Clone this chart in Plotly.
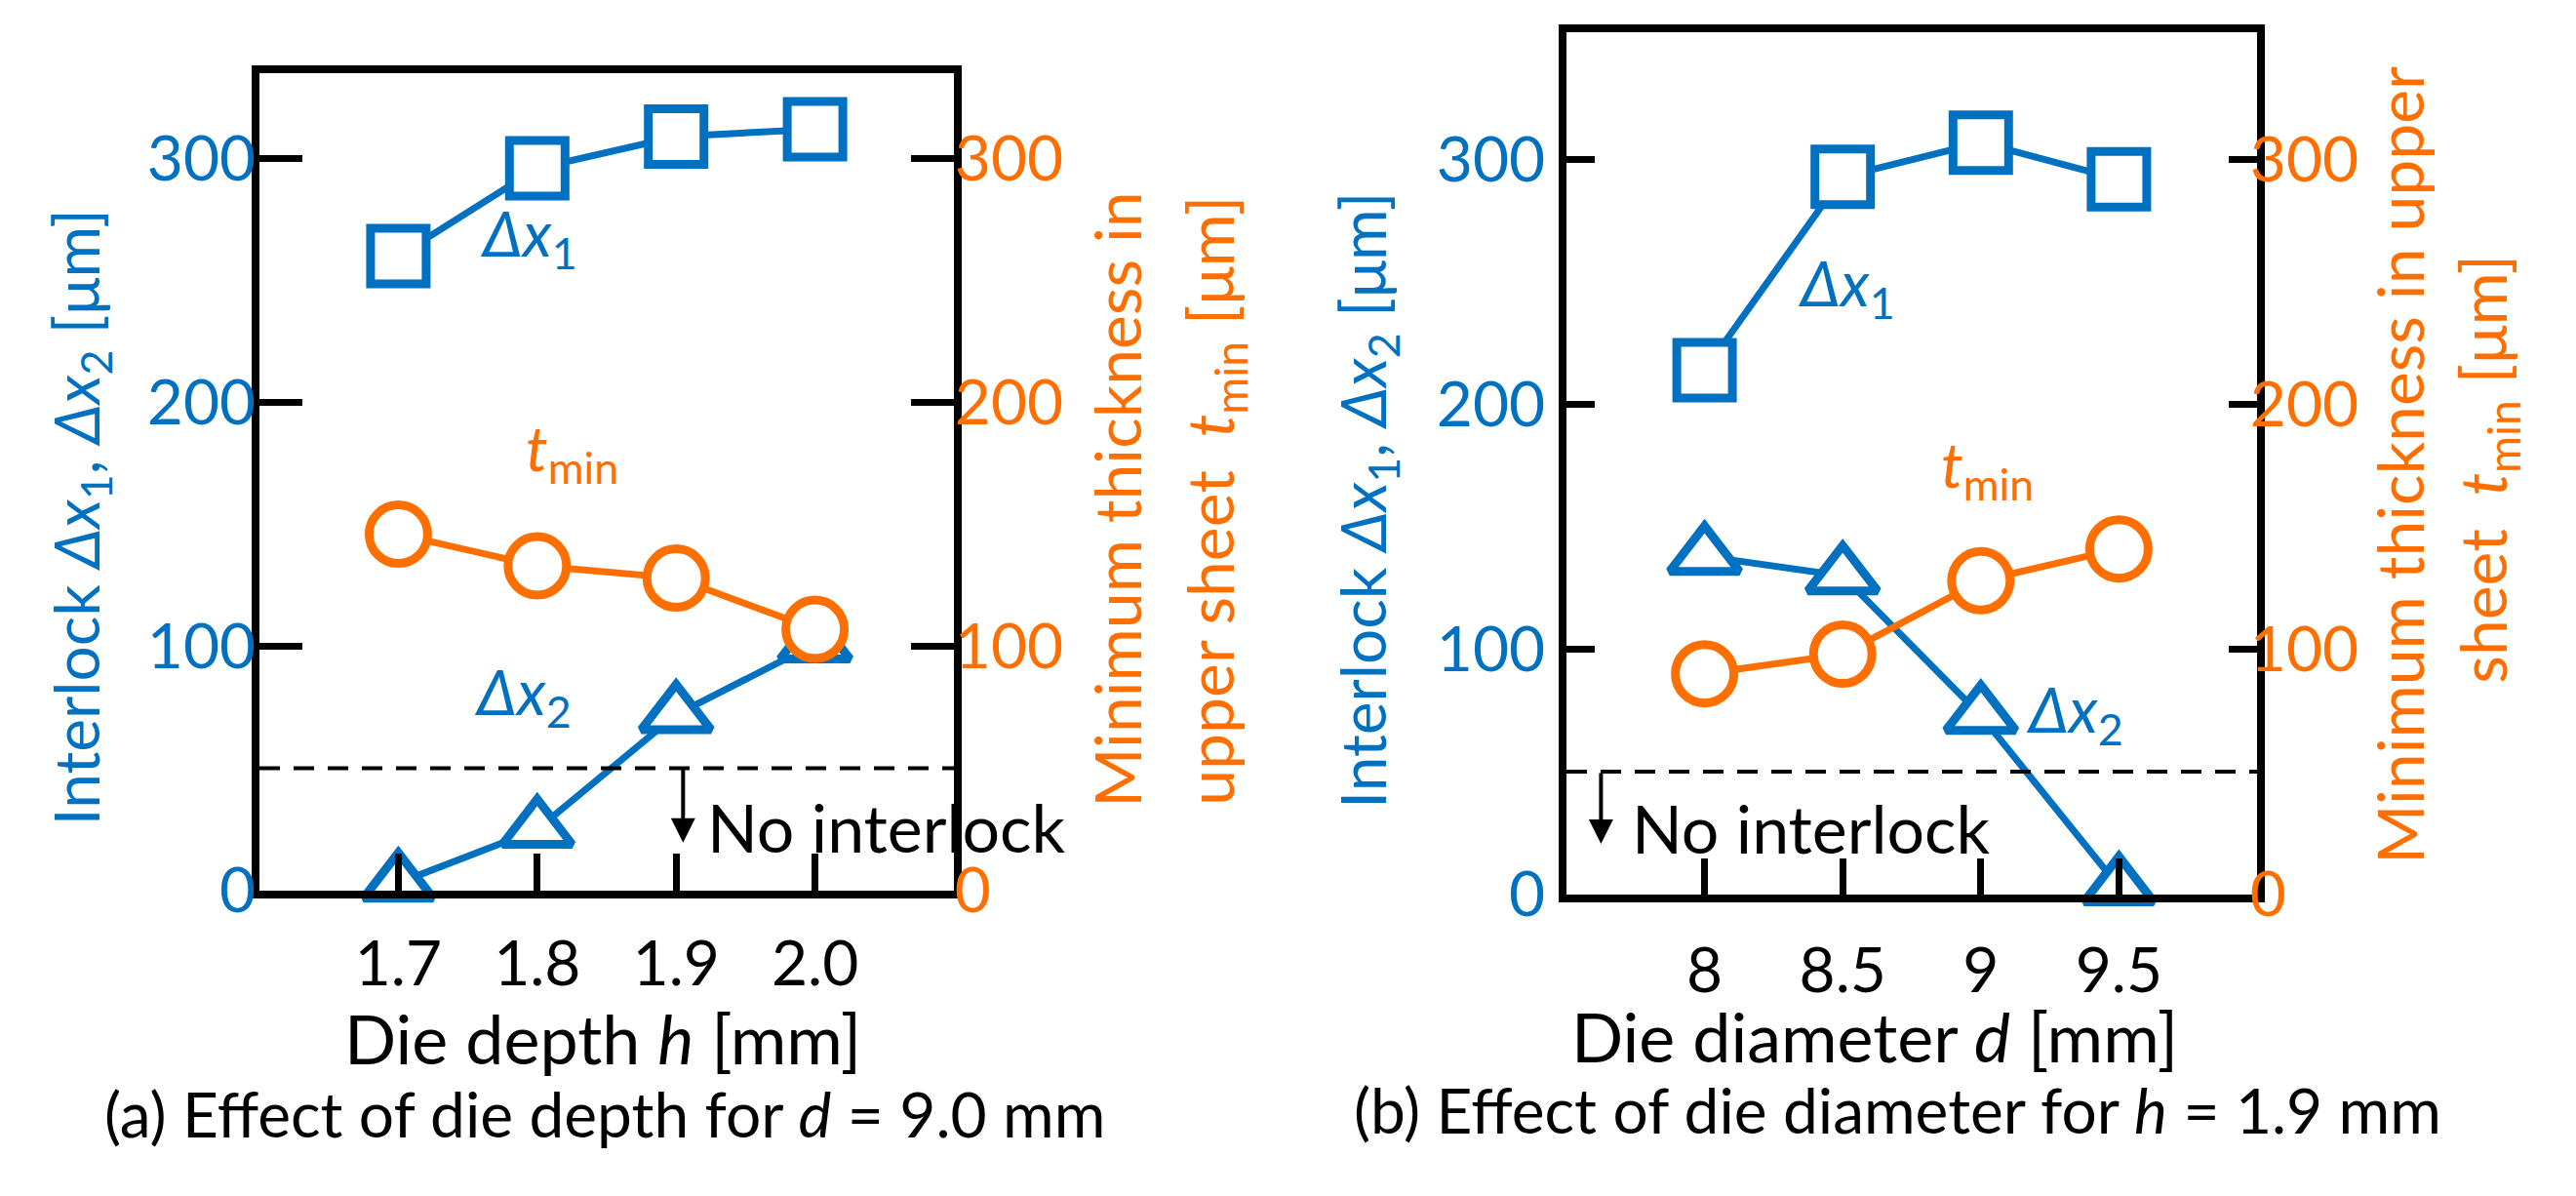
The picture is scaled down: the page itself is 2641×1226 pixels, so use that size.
import plotly.graph_objects as go

# ---------------- data ----------------
depth_h = [1.7, 1.8, 1.9, 2.0]
depth_labels = ["1.7", "1.8", "1.9", "2.0"]
a_dx1 = [260, 296, 309, 312]
a_dx2 = [3, 25, 72, 101]
a_tmin = [146, 133, 128, 107]

diam_d = [8, 8.5, 9, 9.5]
diam_labels = ["8", "8.5", "9", "9.5"]
b_dx1 = [214, 293, 307, 292]
b_dx2 = [138, 130, 73, 3]
b_tmin = [90, 98, 128, 141]

y_ticks = [0, 100, 200, 300]
no_interlock_level = 50

BLUE = "#0070C0"
ORANGE = "#FF6F00"
FONT = "Lato"
FS = 64
W, H = 2641, 1226

fig = go.Figure()

def add_series(x, y, xa, ya, color, symbol, size):
    fig.add_trace(go.Scatter(
        x=x, y=y, xaxis=xa, yaxis=ya, mode="lines+markers",
        line=dict(color=color, width=7),
        marker=dict(symbol=symbol, size=size, color="white",
                    line=dict(color=color, width=9)),
        showlegend=False, cliponaxis=False))

# panel (a)
add_series(depth_h, a_tmin, "x", "y2", ORANGE, "circle", 60)
add_series(depth_h, a_dx2, "x", "y", BLUE, "triangle-up", 62)
add_series(depth_h, a_dx1, "x", "y", BLUE, "square", 57)
# panel (b)
add_series(diam_d, b_tmin, "x2", "y4", ORANGE, "circle", 60)
add_series(diam_d, b_dx2, "x2", "y3", BLUE, "triangle-up", 62)
add_series(diam_d, b_dx1, "x2", "y3", BLUE, "square", 57)

def px_x(p):
    return p / W

def px_y(p):
    return 1 - p / H

axis_common = dict(showgrid=False, zeroline=False, showline=True,
                   linecolor="black", linewidth=8, ticks="inside",
                   tickcolor="black", tickwidth=7)

fig.update_layout(
    width=W, height=H, autosize=False,
    margin=dict(l=0, r=0, t=0, b=0),
    paper_bgcolor="white", plot_bgcolor="white",
    font=dict(family=FONT, size=FS, color="black"),
    xaxis=dict(domain=[px_x(258), px_x(970)], range=[1.6, 2.1],
               tickvals=depth_h, ticktext=depth_labels, ticklen=38,
               mirror=True, anchor="y", ticklabelstandoff=13,
               tickfont=dict(size=FS, color="black"), **axis_common),
    yaxis=dict(domain=[px_y(932), px_y(69)], range=[0, 335],
               tickvals=y_ticks, ticklen=44, anchor="x",
               ticklabelstandoff=-17,
               tickfont=dict(size=FS, color=BLUE), **axis_common),
    yaxis2=dict(overlaying="y", side="right", range=[0, 335],
                tickvals=y_ticks, ticklen=44, anchor="x",
                ticklabelstandoff=-20,
                tickfont=dict(size=FS, color=ORANGE), **axis_common),
    xaxis2=dict(domain=[px_x(1598), px_x(2306)], range=[7.5, 10],
                tickvals=diam_d, ticktext=diam_labels, ticklen=37,
                mirror=True, anchor="y3", ticklabelstandoff=16,
                tickfont=dict(size=FS, color="black"), **axis_common),
    yaxis3=dict(domain=[px_y(936), px_y(26)], range=[0, 352],
                tickvals=y_ticks, ticklen=29, anchor="x2",
                ticklabelstandoff=1,
                tickfont=dict(size=FS, color=BLUE), **axis_common),
    yaxis4=dict(overlaying="y3", side="right", range=[0, 352],
                tickvals=y_ticks, ticklen=29, anchor="x2",
                ticklabelstandoff=-28,
                tickfont=dict(size=FS, color=ORANGE), **axis_common),
)

# dashed "no interlock" threshold lines
for xr, yr in (("x", "y"), ("x2", "y3")):
    fig.add_shape(type="line", xref=f"{xr} domain", yref=yr,
                  x0=0, x1=1, y0=no_interlock_level, y1=no_interlock_level,
                  line=dict(color="black", width=4, dash="21px,14px"))

ann = []

def txt(text, x, y, xref, yref, color="black", xanchor="center",
        yanchor="middle", angle=0, size=FS):
    ann.append(dict(text=text, x=x, y=y, xref=xref, yref=yref,
                    showarrow=False, xanchor=xanchor, yanchor=yanchor,
                    textangle=angle, font=dict(family=FONT, size=size, color=color)))

def arrow(x, y_tail, y_tip, xref, yref):
    ann.append(dict(text="", x=x, y=y_tip, ax=x, ay=y_tail, xref=xref, yref=yref,
                    axref=xref, ayref=yref, showarrow=True, arrowhead=2,
                    arrowsize=1.25, arrowwidth=4, arrowcolor="black"))

DX1 = "<i>Δx</i><sub>1</sub>"
DX2 = "<i>Δx</i><sub>2</sub>"
TMIN = "<i>t</i><sub>min</sub>"

# panel (a) in-plot labels
txt(DX1, 1.757, 268, "x", "y", BLUE, "left")
txt(DX2, 1.753, 80, "x", "y", BLUE, "left")
txt(TMIN, 1.79, 180, "x", "y", ORANGE, "left")
txt("No interlock", 1.921, 26, "x", "y", "black", "left", size=68)
arrow(1.905, no_interlock_level, 19.5, "x", "y")

# panel (b) in-plot labels
txt(DX1, 8.331, 248, "x2", "y3", BLUE, "left")
txt(DX2, 9.155, 74, "x2", "y3", BLUE, "left")
txt(TMIN, 8.849, 174, "x2", "y3", ORANGE, "left")
txt("No interlock", 7.73, 27, "x2", "y3", "black", "left", size=68)
arrow(7.625, no_interlock_level, 20.5, "x2", "y3")

# axis titles and captions (paper coords)
txt("Die depth <i>h</i> [mm]", px_x(610), px_y(1088), "paper", "paper", size=70)
txt("(a) Effect of die depth for <i>d</i> = 9.0 mm", px_x(612), px_y(1168), "paper", "paper")
txt("Die diameter <i>d</i> [mm]", px_x(1914), px_y(1086), "paper", "paper", size=70)
txt("(b) Effect of die diameter for <i>h</i> = 1.9 mm", px_x(1937), px_y(1164), "paper", "paper")

YL = f"Interlock {DX1}, {DX2} [μm]"
txt(YL, px_x(74), px_y(538), "paper", "paper", BLUE, angle=-90)
txt("Minimum thickness in", px_x(1137), px_y(520), "paper", "paper", ORANGE, angle=-90, size=66)
txt(f"upper sheet\u00a0\u00a0{TMIN} [μm]", px_x(1237), px_y(521), "paper", "paper", ORANGE, angle=-90, size=66)

txt(YL, px_x(1393), px_y(520), "paper", "paper", BLUE, angle=-90)
txt("Minimum thickness in upper", px_x(2452), px_y(483), "paper", "paper", ORANGE, angle=-90, size=66)
txt(f"sheet\u00a0\u00a0{TMIN} [μm]", px_x(2542), px_y(487), "paper", "paper", ORANGE, angle=-90, size=66)

fig.update_layout(annotations=ann)

fig.write_html("out.html")
